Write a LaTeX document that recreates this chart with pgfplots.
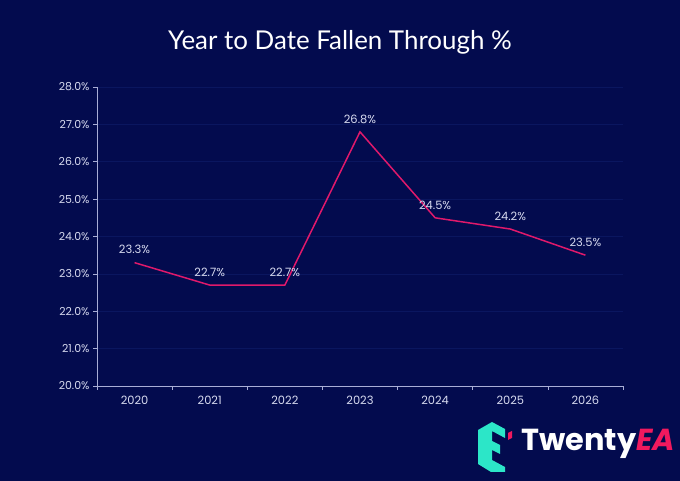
\documentclass[border=0pt]{standalone}
\usepackage{pgfplots}
\pgfplotsset{compat=1.18}
\usepackage{fontspec}
\setmainfont{Poppins}
\newfontfamily\titlefont{Lato}
\definecolor{bg}{HTML}{030B4E}
\definecolor{linec}{HTML}{E0196B}
\definecolor{gridc}{HTML}{0A165F}
\definecolor{axc}{HTML}{A9AED6}
\definecolor{txt}{HTML}{D8DBF0}
\definecolor{teal}{HTML}{2CE6C8}
\definecolor{pink}{HTML}{F0195E}
\begin{document}
\begin{tikzpicture}
\fill[bg] (0,0) rectangle (680bp,481bp);
\useasboundingbox (0,0) rectangle (680bp,481bp);
\node[text=white, font=\titlefont\fontsize{26}{30}\selectfont] at (340bp,439bp) {Year to Date Fallen Through \%};
\begin{axis}[
  at={(97bp,95bp)}, anchor=south west,
  width=526bp, height=299bp, scale only axis,
  xmin=-0.5, xmax=6.5, ymin=20, ymax=28,
  axis x line*=bottom, axis y line*=left,
  axis line style={axc, line width=0.6pt},
  xtick={0,...,6},
  xticklabels={2020,2021,2022,2023,2024,2025,2026},
  minor xtick={-0.5,0.5,...,6.5},
  major x tick style={draw=none},
  minor x tick style={axc, line width=0.6pt},
  minor tick length=4pt,
  ytick={20,21,...,28},
  major y tick style={axc, line width=0.6pt},
  major tick length=4pt,
  tick align=outside,
  ymajorgrids, grid style={gridc, line width=0.7pt},
  /pgf/number format/assume math mode=true,
  yticklabel={\pgfmathprintnumber[fixed,fixed zerofill,precision=1]{\tick}\%},
  ticklabel style={font=\fontsize{11}{13}\selectfont, text=txt},
  xticklabel style={yshift=-3pt, font=\fontsize{11.5}{13}\selectfont},
  clip=false,
]
\addplot[linec, line width=1.5pt,
  nodes near coords={\pgfmathprintnumber[fixed,fixed zerofill,precision=1]{\pgfplotspointmeta}\%},
  point meta=explicit,
  nodes near coords style={font=\fontsize{11.5}{13}\selectfont, text=txt, anchor=south, yshift=4.5pt}]
coordinates {
(0,23.3) [23.3]
(1,22.7) [22.7]
(2,22.7) [22.7]
(3,26.8) [26.8]
(4,24.5) [24.5]
(5,24.2) [24.2]
(6,23.5) [23.5]
};
\end{axis}
\begin{scope}[x=1bp,y=-1bp,yshift=481bp]
\fill[teal] (478,430) -- (492,422) -- (505,429) -- (505,438) -- (492,431) -- (492,441) -- (500,445) -- (500,454) -- (492,450) -- (492,460) -- (505,467) -- (505,472) -- (491,472) -- (478,464) -- cycle;
\fill[pink] (508,433) -- (512,431) -- (512,438) -- (508,440) -- cycle;
\node[anchor=west, inner sep=0pt, font=\fontsize{30.5}{34}\selectfont\bfseries] at (521,444) {\textcolor{white}{Twenty}\textcolor{pink}{\itshape EA}};
\end{scope}
\end{tikzpicture}
\end{document}
